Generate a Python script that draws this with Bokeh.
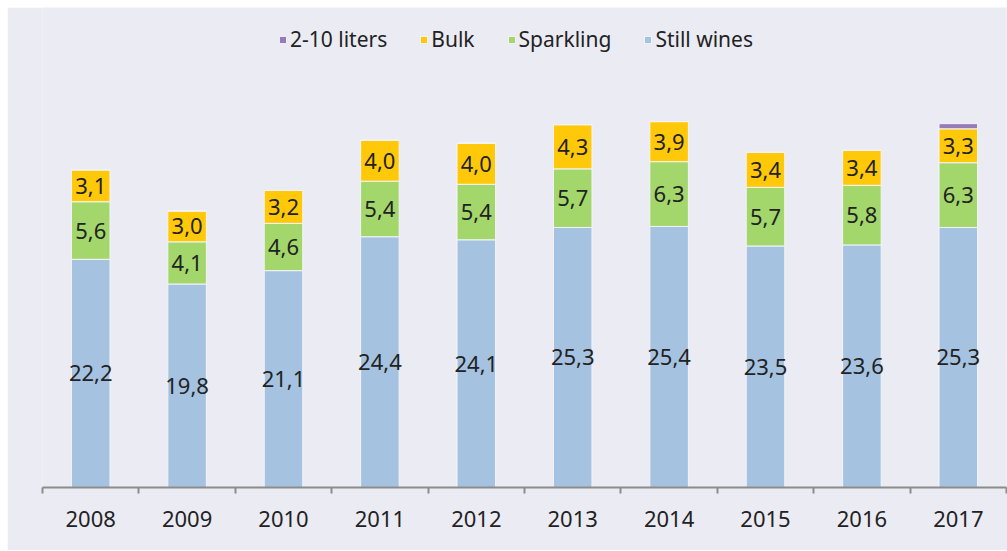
from bokeh.plotting import figure
from bokeh.models import ColumnDataSource, Range1d, FixedTicker, LabelSet, Legend, LegendItem
from bokeh.core.properties import value
from bokeh.embed import file_html
from bokeh.resources import INLINE

years = ["2008", "2009", "2010", "2011", "2012", "2013", "2014", "2015", "2016", "2017"]
still_wines = [22.2, 19.8, 21.1, 24.4, 24.1, 25.3, 25.4, 23.5, 23.6, 25.3]
sparkling = [5.6, 4.1, 4.6, 5.4, 5.4, 5.7, 6.3, 5.7, 5.8, 6.3]
bulk = [3.1, 3.0, 3.2, 4.0, 4.0, 4.3, 3.9, 3.4, 3.4, 3.3]
liters_2_10 = [0, 0, 0, 0, 0, 0, 0, 0, 0, 0.5]

BG = "#EBEBF4"
C_STILL = "#A5C3E0"
C_SPARK = "#A3D76B"
C_BULK = "#FFC90A"
C_LIT = "#957BB8"
FONT = "Noto Sans"
TXT = "#222222"

xs = [i + 0.5 for i in range(len(years))]

def fmt(v):
    return f"{v:.1f}".replace(".", ",")

src = ColumnDataSource(dict(
    x=xs,
    still=still_wines,
    spark=sparkling,
    bulk=bulk,
    lit=liters_2_10,
    still_y=[s / 2 for s in still_wines],
    spark_y=[s + k / 2 for s, k in zip(still_wines, sparkling)],
    bulk_y=[s + k + b / 2 for s, k, b in zip(still_wines, sparkling, bulk)],
    still_t=[fmt(v) for v in still_wines],
    spark_t=[fmt(v) for v in sparkling],
    bulk_t=[fmt(v) for v in bulk],
))

p = figure(width=1000, height=543, output_backend="svg", toolbar_location=None,
           x_range=Range1d(0, 10), y_range=Range1d(0, 46.7),
           y_axis_location=None, min_border_left=35, min_border_right=1,
           min_border_top=0, min_border_bottom=63)
p.margin = (7, 0, 0, 7)
p.background_fill_color = BG
p.border_fill_color = BG
p.outline_line_color = None
p.xgrid.visible = False
p.ygrid.visible = False

rs = p.vbar_stack(["still", "spark", "bulk", "lit"], x="x", width=0.4,
                  color=[C_STILL, C_SPARK, C_BULK, C_LIT],
                  line_color="#F4F4F8", line_width=1, source=src)

for ycol, tcol in [("still_y", "still_t"), ("spark_y", "spark_t"), ("bulk_y", "bulk_t")]:
    p.add_layout(LabelSet(x="x", y=ycol, text=tcol, source=src,
                          text_align="center", text_baseline="middle",
                          text_font=value(FONT), text_font_size="22px", text_color=TXT))

ax = p.xaxis[0]
ax.ticker = FixedTicker(ticks=xs, minor_ticks=list(range(len(years) + 1)))
ax.major_label_overrides = {x: y for x, y in zip(xs, years)}
ax.major_tick_line_color = None
ax.major_tick_in = 0
ax.major_tick_out = 0
ax.minor_tick_in = 0
ax.minor_tick_out = 6
ax.minor_tick_line_color = "#8C8C8C"
ax.minor_tick_line_width = 2
ax.axis_line_color = "#8C8C8C"
ax.axis_line_width = 2
ax.major_label_text_font = FONT
ax.major_label_text_font_size = "22px"
ax.major_label_text_color = TXT
ax.major_label_standoff = 17

legend = Legend(items=[
    LegendItem(label="2-10 liters", renderers=[rs[3]]),
    LegendItem(label="Bulk", renderers=[rs[2]]),
    LegendItem(label="Sparkling", renderers=[rs[1]]),
    LegendItem(label="Still wines", renderers=[rs[0]]),
], orientation="horizontal", location=(236, 434))
legend.background_fill_alpha = 0
legend.border_line_color = None
legend.glyph_width = 9
legend.glyph_height = 9
legend.label_text_font = FONT
legend.label_text_font_size = "21px"
legend.label_text_color = TXT
legend.label_standoff = 3
legend.spacing = 32
legend.margin = 0
legend.padding = 0
p.add_layout(legend)

open("out.html", "w").write(file_html(p, INLINE))
